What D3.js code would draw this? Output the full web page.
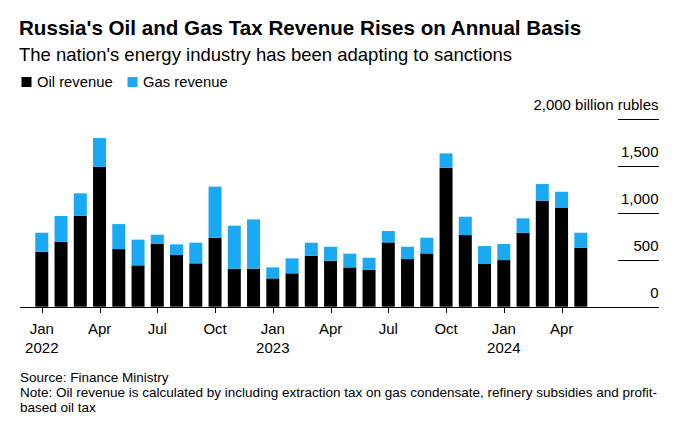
<!DOCTYPE html>
<html>
<head>
<meta charset="utf-8">
<script src="https://cdn.jsdelivr.net/npm/d3@7"></script>
<style>
  html, body { margin: 0; padding: 0; background: #fff; }
  svg { display: block; font-family: "Liberation Sans", Arial, sans-serif; }
</style>
</head>
<body>
<svg id="chart" width="680" height="427"></svg>
<script>
// Data (billion rubles), Jan 2022 – May 2024
const months = ["Jan 2022","Feb 2022","Mar 2022","Apr 2022","May 2022","Jun 2022","Jul 2022","Aug 2022","Sep 2022","Oct 2022","Nov 2022","Dec 2022",
  "Jan 2023","Feb 2023","Mar 2023","Apr 2023","May 2023","Jun 2023","Jul 2023","Aug 2023","Sep 2023","Oct 2023","Nov 2023","Dec 2023",
  "Jan 2024","Feb 2024","Mar 2024","Apr 2024","May 2024"];
const oilRevenue = [585, 691, 968, 1489, 613, 440, 667, 550, 461, 734, 404, 404,
  301, 355, 543, 489, 418, 394, 684, 507, 567, 1479, 762, 454,
  496, 787, 1128, 1050, 628];
const gasRevenue = [202, 274, 238, 305, 266, 273, 99, 113, 220, 543, 458, 525,
  117, 159, 138, 149, 146, 127, 121, 131, 167, 152, 195, 191,
  171, 153, 177, 173, 159];
const yTicks = [0, 500, 1000, 1500, 2000];
const yTickLabels = ["0", "500", "1,000", "1,500", "2,000 billion rubles"];
const xTickMonths = ["Jan 2022","Apr 2022","Jul 2022","Oct 2022","Jan 2023","Apr 2023","Jul 2023","Oct 2023","Jan 2024","Apr 2024"];
const seriesNames = ["Oil revenue", "Gas revenue"];
const colors = ["#000000", "#1aa9f3"];

const svg = d3.select("#chart");

// Titles
svg.append("text").attr("x", 19).attr("y", 34.5)
  .attr("font-size", 20.6).attr("font-weight", 700).attr("fill", "#000")
  .text("Russia's Oil and Gas Tax Revenue Rises on Annual Basis");
svg.append("text").attr("x", 19).attr("y", 61)
  .attr("font-size", 18.5).attr("fill", "#000")
  .text("The nation's energy industry has been adapting to sanctions");

// Legend
const legend = svg.append("g");
const legX = [21.5, 127.5];
seriesNames.forEach((s, i) => {
  legend.append("rect").attr("x", legX[i]).attr("y", 77).attr("width", 10).attr("height", 10).attr("fill", colors[i]);
  legend.append("text").attr("x", legX[i] + 15.5).attr("y", 86.5).attr("font-size", 14.8).attr("fill", "#000").text(s);
});

// Scales
const x = d3.scaleBand().domain(months).range([35.3, 587.3]).paddingInner(0.325).paddingOuter(0);
const y = d3.scaleLinear().domain([0, 2000]).range([306.7, 118.7]);

// Gridlines on right
const grid = svg.append("g");
yTicks.forEach((t, i) => {
  if (t > 0) {
    grid.append("line").attr("x1", 618).attr("x2", 659)
      .attr("y1", Math.round(y(t)) + 0.5).attr("y2", Math.round(y(t)) + 0.5)
      .attr("stroke", "#000").attr("stroke-width", 1);
  }
  grid.append("text").attr("x", 658.5).attr("y", y(t) - 9).attr("text-anchor", "end")
    .attr("font-size", 15).attr("fill", "#000").text(yTickLabels[i]);
});

// Stacked bars
const table = months.map((m, i) => ({ month: m, oil: oilRevenue[i], gas: gasRevenue[i] }));
const stack = d3.stack().keys(["oil", "gas"])(table);
svg.append("g").selectAll("g").data(stack).join("g")
  .attr("fill", (d, i) => colors[i])
  .selectAll("rect").data(d => d).join("rect")
  .attr("x", d => x(d.data.month))
  .attr("width", x.bandwidth())
  .attr("y", d => y(d[1]))
  .attr("height", d => y(d[0]) - y(d[1]));

// Baseline
svg.append("line").attr("x1", 20).attr("x2", 659)
  .attr("y1", Math.round(y(0)) + 0.5).attr("y2", Math.round(y(0)) + 0.5)
  .attr("stroke", "#000").attr("stroke-width", 1);

// X ticks
const xAxis = svg.append("g");
xTickMonths.forEach(m => {
  const cx = x(m) + x.bandwidth() / 2;
  xAxis.append("line").attr("x1", Math.round(cx) + 0.5).attr("x2", Math.round(cx) + 0.5)
    .attr("y1", 307).attr("y2", 313).attr("stroke", "#000");
  const [mon, yr] = m.split(" ");
  xAxis.append("text").attr("x", cx).attr("y", 333.5).attr("text-anchor", "middle")
    .attr("font-size", 15).attr("fill", "#000").text(mon);
  if (mon === "Jan") {
    xAxis.append("text").attr("x", cx).attr("y", 352.5).attr("text-anchor", "middle")
      .attr("font-size", 15).attr("fill", "#000").text(yr);
  }
});

// Footer
const foot = svg.append("g").attr("font-size", 13.5).attr("fill", "#000");
foot.append("text").attr("x", 20).attr("y", 382).text("Source: Finance Ministry");
foot.append("text").attr("x", 20).attr("y", 397).text("Note: Oil revenue is calculated by including extraction tax on gas condensate, refinery subsidies and profit-");
foot.append("text").attr("x", 20).attr("y", 411.5).text("based oil tax");
</script>
</body>
</html>
